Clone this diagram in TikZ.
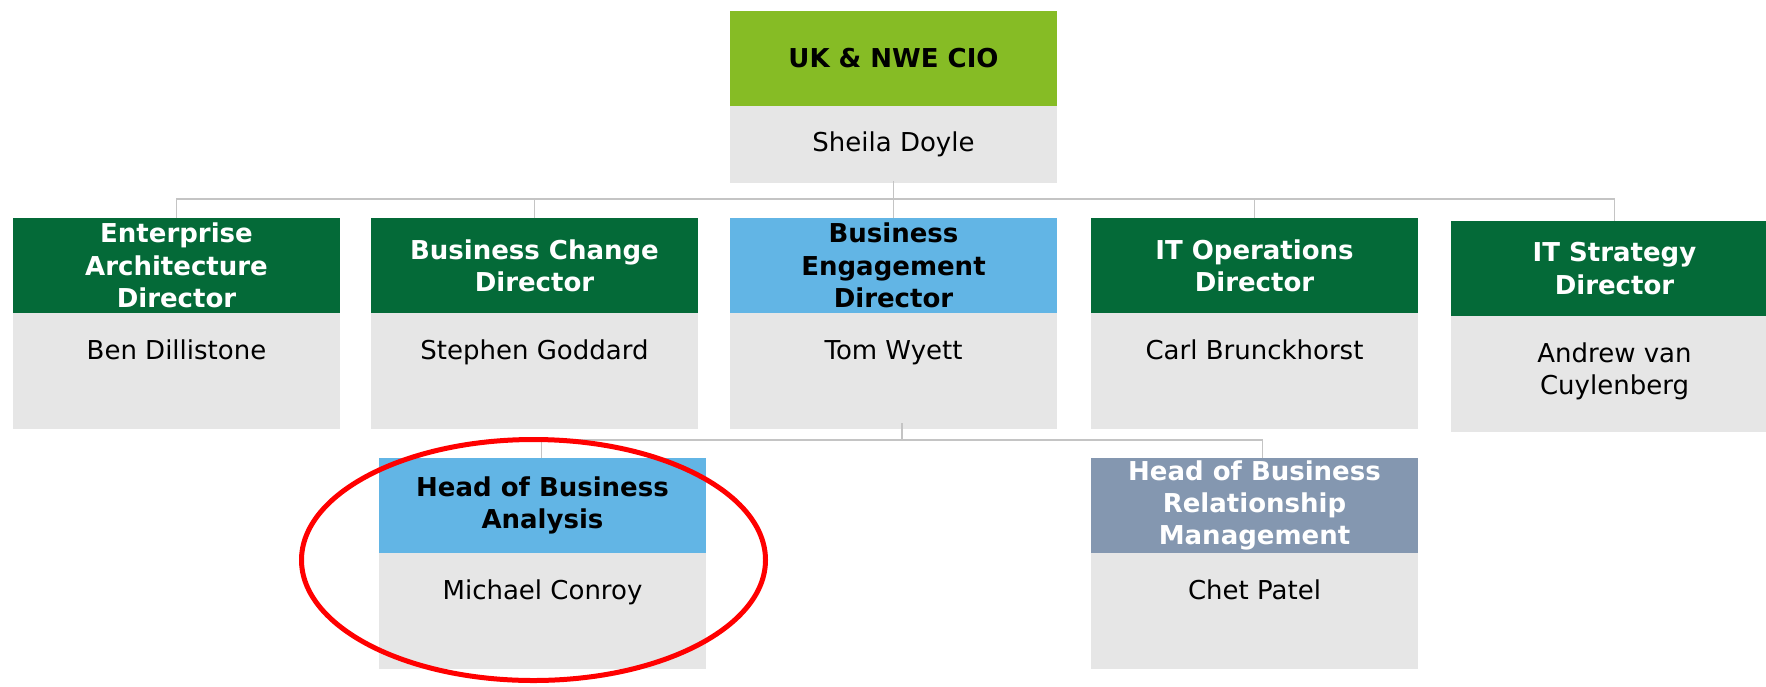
\documentclass[tikz,border=0pt]{standalone}
\usepackage{fontspec}
\setmainfont{DejaVu Sans}
\usetikzlibrary{calc}
\definecolor{limegreen}{HTML}{86BC25}
\definecolor{darkgreen}{HTML}{046A38}
\definecolor{skyblue}{HTML}{62B5E5}
\definecolor{slate}{HTML}{8497B0}
\definecolor{boxgrey}{HTML}{E6E6E6}
\definecolor{linegrey}{HTML}{C4C4C4}
\begin{document}
\begin{tikzpicture}[x=1pt,y=-1pt,
  hd/.style={anchor=north west, minimum width=327pt, minimum height=95pt, inner sep=0pt, outer sep=0pt, align=center, font=\bfseries\fontsize{26}{32.3}\selectfont},
  bd/.style={anchor=north west, fill=boxgrey, minimum width=327pt, minimum height=116pt, inner sep=0pt, outer sep=0pt},
  nm/.style={anchor=north, inner sep=0pt, align=center, text=black, font=\fontsize{26}{31.5}\selectfont},
  conn/.style={draw=linegrey, line width=1.8pt}]
\useasboundingbox (0,0) rectangle (1766,686);
\fill[white] (0,0) rectangle (1766,686);

% top
\node[hd, fill=limegreen, text=black] (cioH) at (730,11) {UK \& NWE CIO};
\node[bd, minimum height=77pt] (cioB) at (cioH.south west) {};
\node[nm, anchor=center] (cioN) at (cioB.center) {Sheila Doyle};

% row 2
\node[hd, fill=darkgreen, text=white] (eaH) at (13,218) {Enterprise\\Architecture\\Director};
\node[bd] (eaB) at (eaH.south west) {};
\node[nm] (eaN) at ($(eaB.north)+(0,27)$) {Ben Dillistone};

\node[hd, fill=darkgreen, text=white] (bcH) at (371,218) {Business Change\\Director};
\node[bd] (bcB) at (bcH.south west) {};
\node[nm] (bcN) at ($(bcB.north)+(0,27)$) {Stephen Goddard};

\node[hd, fill=skyblue, text=black] (beH) at (730,218) {Business\\Engagement\\Director};
\node[bd] (beB) at (beH.south west) {};
\node[nm] (beN) at ($(beB.north)+(0,27)$) {Tom Wyett};

\node[hd, fill=darkgreen, text=white] (itoH) at (1091,218) {IT Operations\\Director};
\node[bd] (itoB) at (itoH.south west) {};
\node[nm] (itoN) at ($(itoB.north)+(0,27)$) {Carl Brunckhorst};

\node[hd, fill=darkgreen, text=white] (itsH) at (1451,221) {IT Strategy\\Director};
\node[bd] (itsB) at (itsH.south west) {};
\node[nm] (itsN) at ($(itsB.north)+(0,27)$) {Andrew van\\Cuylenberg};

% row 3
\node[hd, fill=skyblue, text=black] (hbaH) at (379,458) {Head of Business\\Analysis};
\node[bd] (hbaB) at (hbaH.south west) {};
\node[nm] (hbaN) at ($(hbaB.north)+(0,27)$) {Michael Conroy};

\node[hd, fill=slate, text=white] (hbrH) at (1091,458) {Head of Business\\Relationship\\Management};
\node[bd] (hbrB) at (hbrH.south west) {};
\node[nm] (hbrN) at ($(hbrB.north)+(0,27)$) {Chet Patel};

% connectors level 1
\coordinate (busA) at ($(cioB.south)+(0,16)$);
\draw[conn] ($(cioB.south)+(0,-2)$) -- (beH.north);
\draw[conn] (eaH.north) |- (busA) -| (itsH.north);
\draw[conn] (bcH.north) -- (bcH.north |- busA);
\draw[conn] (itoH.north) -- (itoH.north |- busA);

% connectors level 2
\coordinate (beOut) at ($(beB.south)+(8.5,-6)$);
\coordinate (busB) at ($(beB.south)+(8.5,11)$);
\draw[conn] (beOut) -- (busB);
\draw[conn] ($(hbaH.north)+(-1,0)$) |- (busB) -| ($(hbrH.north)+(8,0)$);

% highlight
\draw[red, line width=5pt] (533.5,560) ellipse [x radius=232, y radius=120.5];
\end{tikzpicture}
\end{document}
